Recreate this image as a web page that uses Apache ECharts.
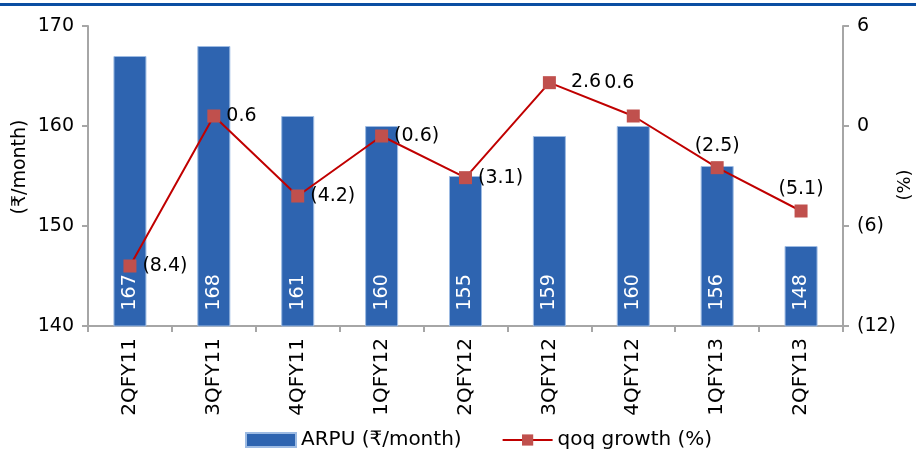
<!DOCTYPE html>
<html><head><meta charset="utf-8">
<script src="https://cdn.jsdelivr.net/npm/echarts@6/dist/echarts.min.js"></script>
<style>html,body{margin:0;padding:0;background:#fff}#c{width:916px;height:451px}</style>
</head><body><div id="c"></div>
<script>
const categories = ["2QFY11","3QFY11","4QFY11","1QFY12","2QFY12","3QFY12","4QFY12","1QFY13","2QFY13"];
const arpu = [167,168,161,160,155,159,160,156,148];
const qoq = [-8.4,0.6,-4.2,-0.6,-3.1,2.6,0.6,-2.5,-5.1];
const qoqLabels = ["(8.4)","0.6","(4.2)","(0.6)","(3.1)","2.6","0.6","(2.5)","(5.1)"];
const leftTicks = [140,150,160,170];
const rightTicks = [-12,-6,0,6];

const FONT = "DejaVu Sans";
const fmtPct = v => v < 0 ? "(" + Math.abs(v) + ")" : String(v);

const lineData = qoq.map((v, i) => {
  const d = { value: v, label: { formatter: qoqLabels[i] } };
  if (i === 7 || i === 8) d.label.position = "top";
  if (i === 6) { d.label.position = "inside"; d.label.offset = [-14, -33]; }
  if (i === 5) { d.label.offset = [9, -1]; }
  return d;
});

const chart = echarts.init(document.getElementById("c"), null, { renderer: "canvas" });
chart.setOption({
  animation: false,
  textStyle: { fontFamily: FONT },
  graphic: [{ type: "rect", shape: { x: 0, y: 3, width: 916, height: 3 }, style: { fill: "#0b4ea2" } }],
  grid: { left: 88, right: 73, top: 26, bottom: 125, outerBoundsMode: "none", containLabel: false },
  legend: {
    top: 425, left: 240, itemWidth: 50, itemHeight: 14, itemGap: 40,
    textStyle: { fontSize: 20, color: "#000", fontFamily: FONT },
    data: [{ name: "ARPU (₹/month)", icon: "rect" }, { name: "qoq growth (%)" }]
  },
  xAxis: {
    type: "category", data: categories,
    axisLine: { onZero: false, lineStyle: { color: "#a6a6a6", width: 2 } },
    axisTick: { show: true, length: 6, lineStyle: { color: "#a6a6a6", width: 2 } },
    axisLabel: { rotate: 90, fontSize: 20, color: "#000", margin: 12, fontFamily: FONT }
  },
  yAxis: [
    {
      type: "value", min: 140, max: 170, interval: 10,
      name: "(₹/month)", nameLocation: "middle", nameGap: 58, nameRotate: 90, nameMoveOverlap: false,
      nameTextStyle: { fontSize: 19, color: "#000", fontFamily: FONT, padding: [0, 0, 0, 18] },
      axisLine: { show: true, lineStyle: { color: "#a6a6a6", width: 2 } },
      axisTick: { show: true, length: 6, lineStyle: { color: "#a6a6a6", width: 2 } },
      splitLine: { show: false },
      axisLabel: { fontSize: 19, color: "#000", margin: 14, fontFamily: FONT }
    },
    {
      type: "value", min: -12, max: 6, interval: 6,
      name: "(%)", nameLocation: "middle", nameGap: 53, nameRotate: 90, nameMoveOverlap: false,
      nameTextStyle: { fontSize: 18, color: "#000", fontFamily: FONT, padding: [0, 18, 0, 0] },
      axisLine: { show: true, lineStyle: { color: "#a6a6a6", width: 2 } },
      axisTick: { show: true, length: 6, lineStyle: { color: "#a6a6a6", width: 2 } },
      splitLine: { show: false },
      axisLabel: { fontSize: 19, color: "#000", margin: 14, fontFamily: FONT, formatter: fmtPct }
    }
  ],
  series: [
    {
      name: "ARPU (₹/month)", type: "bar", data: arpu, barWidth: 33, yAxisIndex: 0,
      itemStyle: { color: "#2e64b0", borderColor: "#9dbbe3", borderWidth: 1 },
      label: {
        show: true, position: "insideBottom", rotate: 90, align: "left", verticalAlign: "middle",
        distance: 16, color: "#fff", fontSize: 19, fontFamily: FONT
      }
    },
    {
      name: "qoq growth (%)", type: "line", data: lineData, yAxisIndex: 1,
      symbol: "rect", symbolSize: 13,
      lineStyle: { color: "#c00000", width: 2 },
      itemStyle: { color: "#c0504d" },
      label: { show: true, position: "right", distance: 6, color: "#000", fontSize: 19, fontFamily: FONT }
    }
  ]
});
</script></body></html>
